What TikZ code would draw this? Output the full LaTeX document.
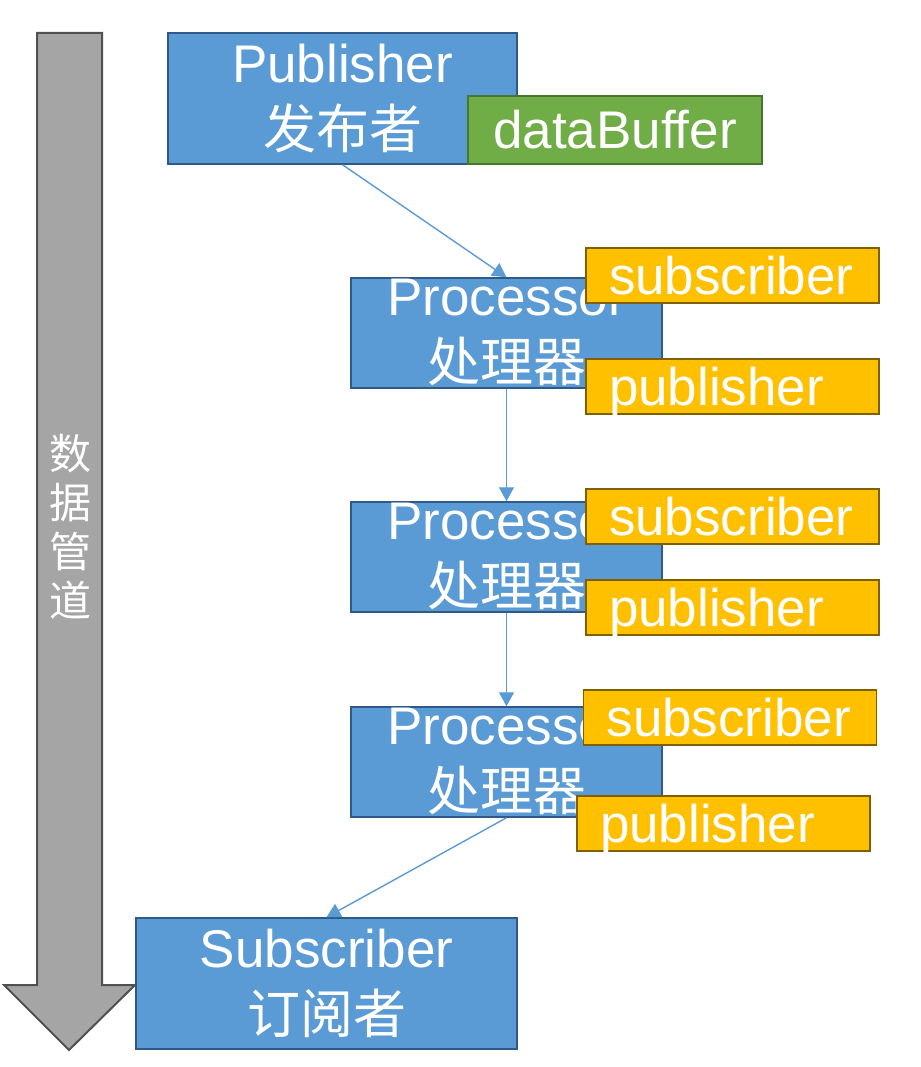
\documentclass[tikz,border=0pt]{standalone}
\usepackage{fontspec}
\setmainfont{Liberation Sans}
\newfontfamily\cjk{Noto Sans CJK SC}
\usetikzlibrary{arrows.meta, positioning}

\definecolor{boxblue}{HTML}{5B9BD5}
\definecolor{blueedge}{HTML}{2F5A88}
\definecolor{tagfill}{HTML}{FFC000}
\definecolor{tagedge}{HTML}{7F6000}
\definecolor{buffill}{HTML}{70AD47}
\definecolor{bufedge}{HTML}{47762C}
\definecolor{pipefill}{HTML}{A5A5A5}
\definecolor{pipeedge}{HTML}{505050}

\begin{document}
\begin{tikzpicture}[x=1pt, y=-1pt,
      box/.style={rectangle, draw=blueedge, line width=1.5pt, fill=boxblue, text=white, inner sep=0pt, align=center, font=\fontsize{53}{66}\selectfont},
      buffer/.style={rectangle, draw=bufedge, line width=1.5pt, fill=buffill, text=white, inner sep=0pt, minimum width=294pt, minimum height=68pt, font=\fontsize{53}{66}\selectfont},
      tag/.style={rectangle, draw=tagedge, line width=1.5pt, fill=tagfill, text=white, inner xsep=23pt, inner ysep=0pt, text width=247pt, align=left, text height=37pt, text depth=0pt, minimum height=55pt, font=\fontsize{53}{66}\selectfont},
      label/.style={text=white, inner sep=0pt, align=center, font=\fontsize{53}{66}\selectfont},
      flow/.style={draw=boxblue, line width=1.4pt, -{Triangle[width=15pt, length=14pt]}},
      pipe/.style={draw=pipeedge, line width=2pt, fill=pipefill}]

      \useasboundingbox (0,0) rectangle (920,1067);

      % Pipe
      \draw[pipe] (37,33) -- (102,33) -- (102,985) -- (135,985) -- (69,1050) -- (4,985) -- (37,985) -- cycle;
      \node[text=white, align=center, inner sep=0pt, font=\cjk\fontsize{42}{49}\selectfont] (pipetext) at (70,527) {数\\据\\管\\道};

      % Blocks
      \node[box, minimum width=349pt, minimum height=131pt] (publisher) at (342.5,98.5) {Publisher\\{\cjk 发布者}};
      \node[buffer] (buffer) at (615,130) {dataBuffer};

      \foreach \i/\y in {1/333, 2/557, 3/762} {
        \node[box, minimum width=311pt, minimum height=110pt] (proc\i) at (506.5,\y) {};
        \node[label] (proc\i text) at ([yshift=1pt]proc\i.center) {Processor\\{\cjk 处理器}};
      }

      \node[box, minimum width=381pt, minimum height=131pt] (subscriber) at (326.5,983.5) {Subscriber\\{\cjk 订阅者}};

      % Tags
      \foreach \i/\sx/\sy/\px/\py in {1/732.5/275.5/732.5/386.5, 2/732.5/516.5/732.5/607.5, 3/730/717.5/723.5/823.5} {
        \node[tag] (subtag\i) at (\sx,\sy) {subscriber};
        \node[tag] (pubtag\i) at (\px,\py) {publisher};
      }

      % Arrows
      \draw[flow] (publisher.south) -- (proc1.north);
      \foreach \a/\b in {proc1/proc2, proc2/proc3} {
        \draw[flow] (\a.south) -- (\b.north);
      }
      \draw[flow] (proc3.south) -- (subscriber.north);
    \end{tikzpicture}
\end{document}
